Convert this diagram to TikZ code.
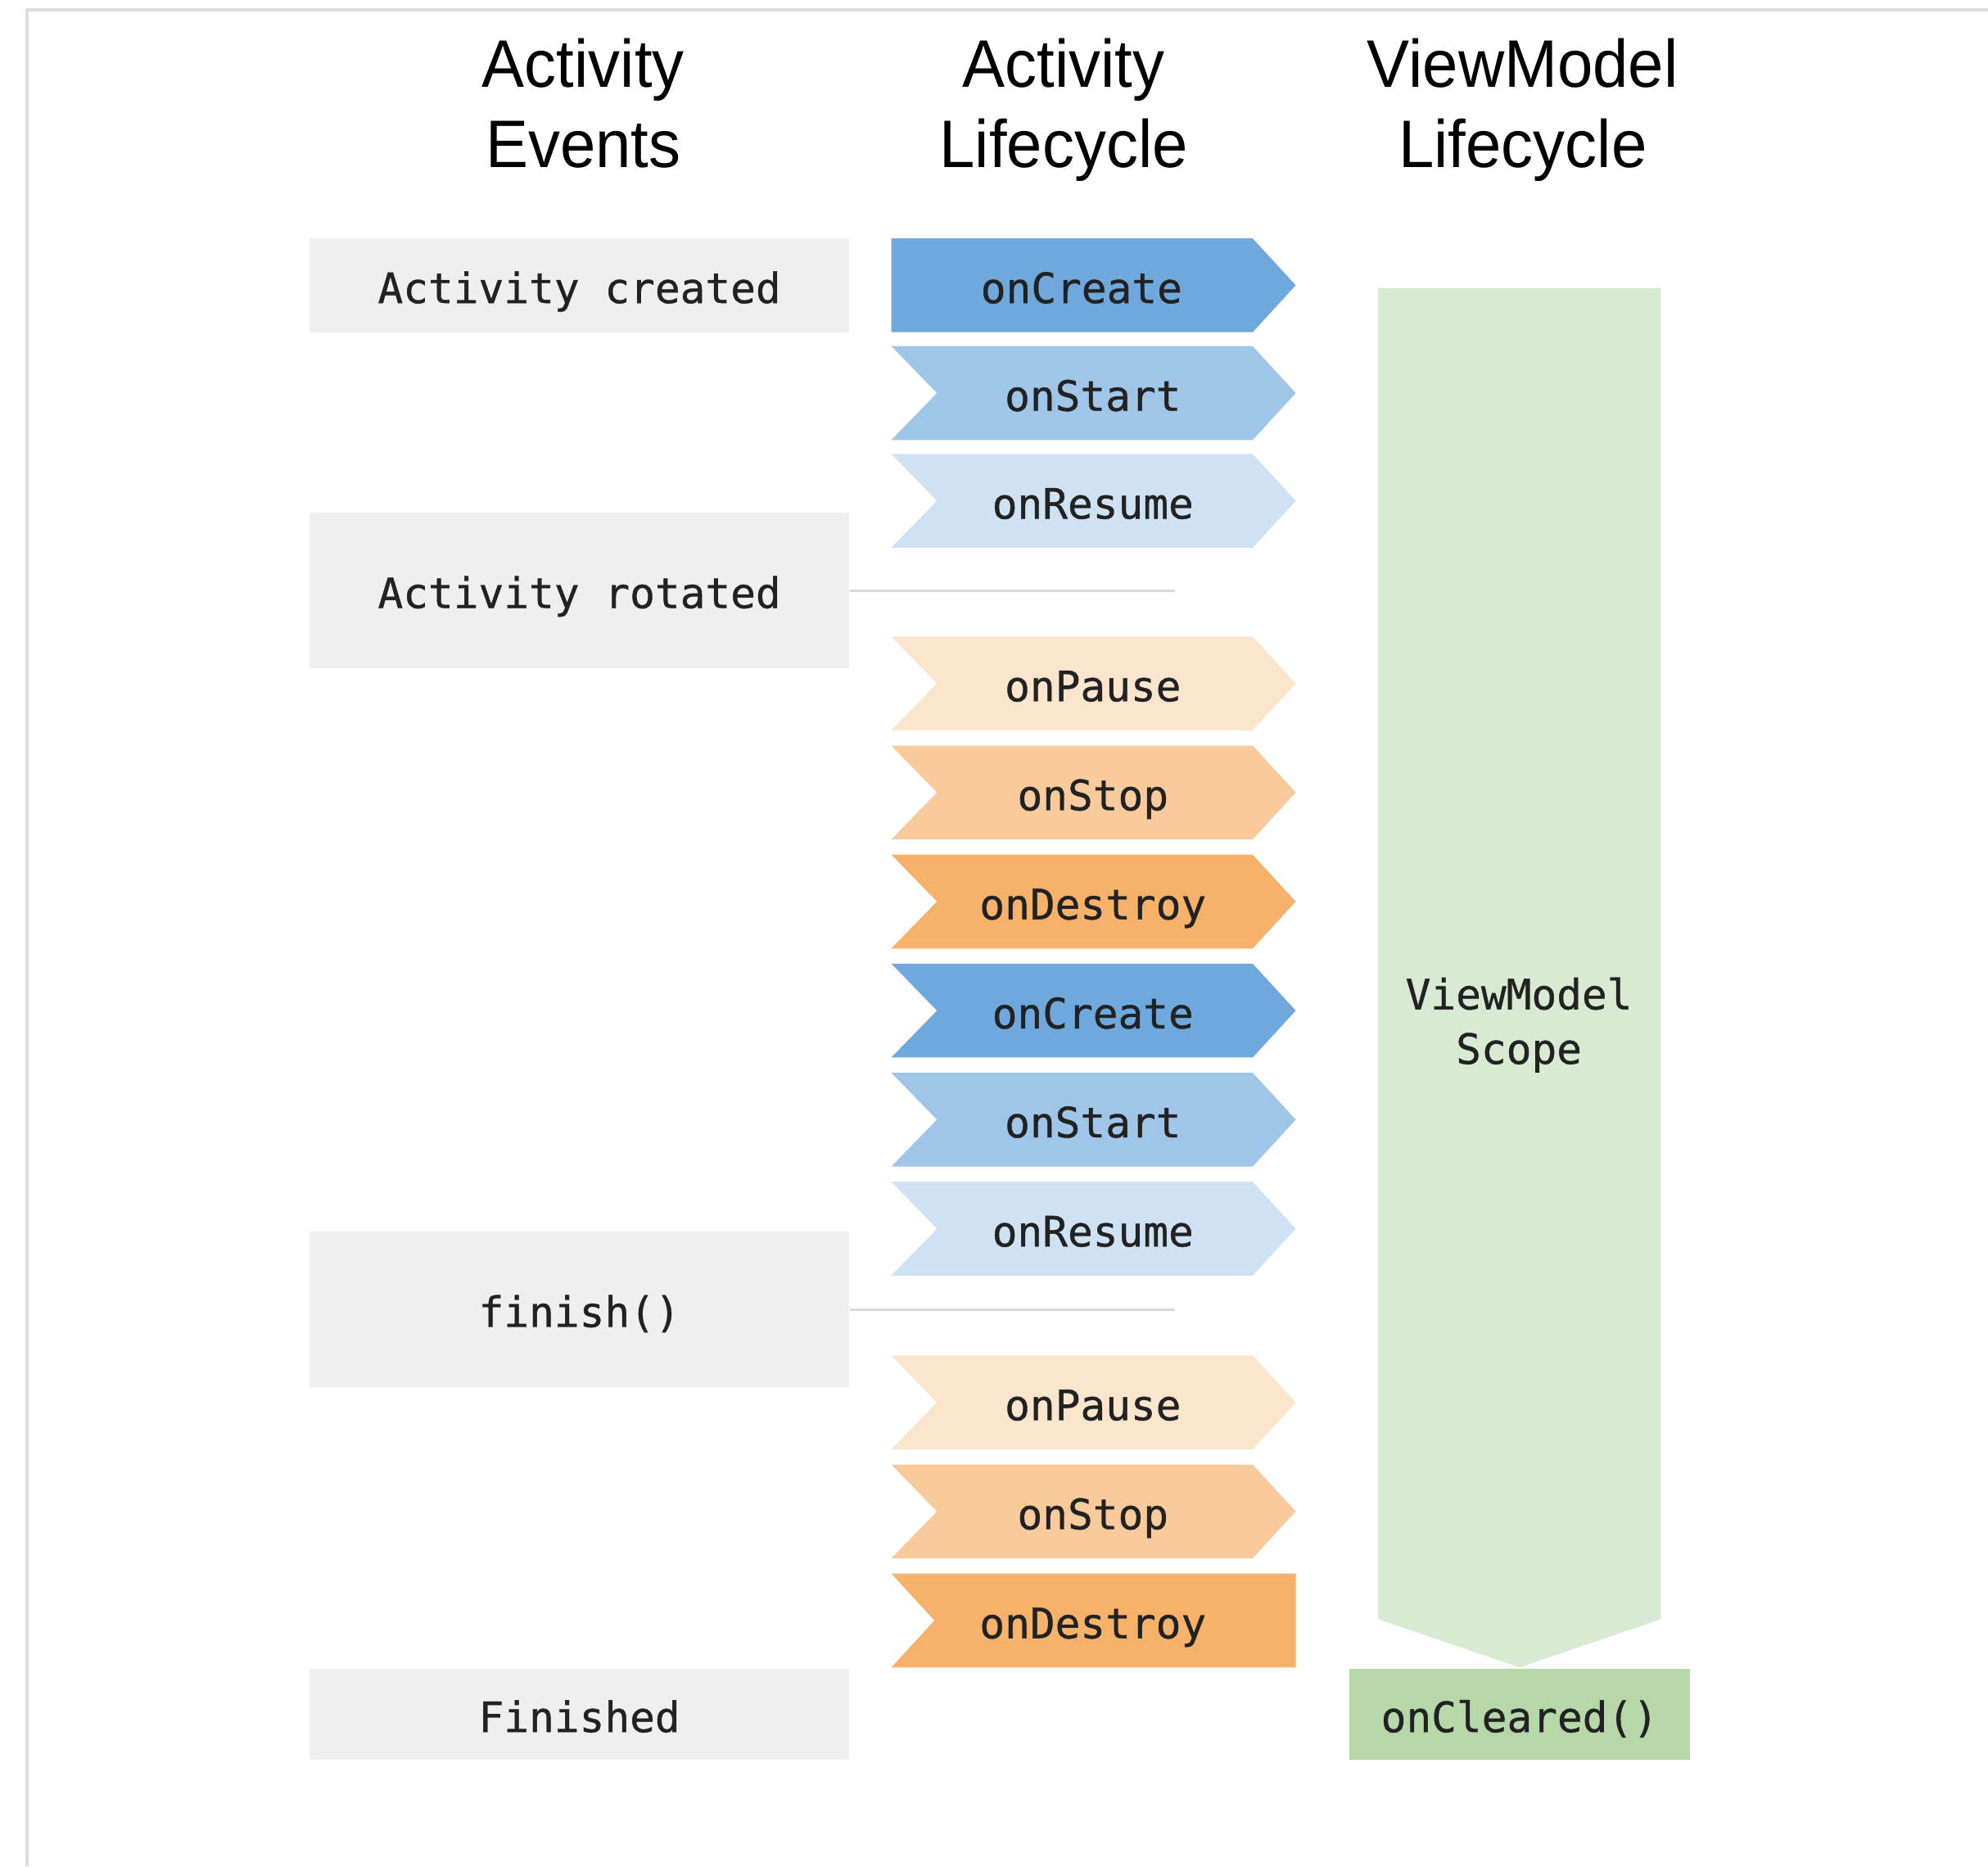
\documentclass[tikz,border=0pt]{standalone}
\usepackage{fontspec}
\setmainfont{Liberation Sans}
\newfontfamily\hdrfont[FakeStretch=0.95]{Liberation Sans}
\newfontfamily\codefont[FakeBold=0.7]{DejaVu Sans Mono}

\definecolor{framegray}{HTML}{DDDDDD}
\definecolor{evgray}{HTML}{EFEFEF}
\definecolor{tickgray}{HTML}{D9D9D9}
\definecolor{lcCreate}{HTML}{6FA8DC}
\definecolor{lcStart}{HTML}{9FC5E8}
\definecolor{lcResume}{HTML}{CFE2F3}
\definecolor{lcPause}{HTML}{FCE5CD}
\definecolor{lcStop}{HTML}{F9CB9C}
\definecolor{lcDestroy}{HTML}{F6B26B}
\definecolor{vmScope}{HTML}{D9EAD3}
\definecolor{vmCleared}{HTML}{B6D7A8}
\definecolor{codeink}{HTML}{222222}

% one lifecycle step: notched on the left, pointed on the right
% #1 node name, #2 vertical centre, #3 colour, #4 label
\newcommand\lcstep[4]{%
  \fill[#3] (703,#2-37) -- (988,#2-37) -- (1022,#2) -- (988,#2+37)
            -- (703,#2+37) -- (739,#2) -- cycle;
  \node[codetext] (#1) at (862,#2) {#4};}

\begin{document}
\begin{tikzpicture}[x=1pt,y=-1pt,
  codetext/.style={font=\codefont\fontsize{33}{40}\selectfont, text=codeink,
    inner sep=0pt, text height=28pt, text depth=0pt},
  hdr/.style={font=\hdrfont\fontsize{53}{63.5}\selectfont, anchor=base, inner sep=0pt},
  evbox/.style={codetext, fill=evgray, minimum width=426pt},
  tick/.style={draw=tickgray, line width=2pt}]

\useasboundingbox (0,0) rectangle (1568,1472);
\fill[white] (0,0) rectangle (1568,1472);

% page frame
\draw[framegray, line width=2.5pt] (21.5,1472) -- (21.5,7.5) -- (1568,7.5);

% column headings
\node[hdr] (hdrEvA) at (460,69)  {Activity};
\node[hdr] (hdrEvB) at (460,132) {Events};
\node[hdr] (hdrLcA) at (839,69)  {Activity};
\node[hdr] (hdrLcB) at (839,132) {Lifecycle};
\node[hdr] (hdrVmA) at (1201,69)  {ViewModel};
\node[hdr] (hdrVmB) at (1201,132) {Lifecycle};

% activity events
\node[evbox, minimum height=74pt]  (evCreated)  at (457,225)    {Activity created};
\node[evbox, minimum height=123pt] (evRotated)  at (457,465.5)  {Activity rotated};
\node[evbox, minimum height=123pt] (evFinish)   at (457,1032.5) {finish()};
\node[evbox, minimum height=72pt]  (evFinished) at (457,1352)   {Finished};

\coordinate (rotEnd) at (927,466);
\coordinate (finEnd) at (927,1033);
\draw[tick] (evRotated.east |- rotEnd) -- (rotEnd);
\draw[tick] (evFinish.east |- finEnd) -- (finEnd);

% activity lifecycle: first onCreate has a flat left side
\fill[lcCreate] (703,188) -- (988,188) -- (1022,225) -- (988,262) -- (703,262) -- cycle;
\node[codetext] (create1) at (853,225) {onCreate};
\lcstep{start1}{310}{lcStart}{onStart}
\lcstep{resume1}{395}{lcResume}{onResume}
\lcstep{pause1}{539}{lcPause}{onPause}
\lcstep{stop1}{625}{lcStop}{onStop}
\lcstep{destroy1}{711}{lcDestroy}{onDestroy}
\lcstep{create2}{797}{lcCreate}{onCreate}
\lcstep{start2}{883}{lcStart}{onStart}
\lcstep{resume2}{969}{lcResume}{onResume}
\lcstep{pause2}{1106}{lcPause}{onPause}
\lcstep{stop2}{1192}{lcStop}{onStop}
% last onDestroy ends square on the right
\fill[lcDestroy] (703,1241) -- (1022,1241) -- (1022,1315) -- (703,1315) -- (737,1278) -- cycle;
\node[codetext] (destroy2) at (862,1278) {onDestroy};

% viewmodel lifecycle
\fill[vmScope] (1087,227) -- (1310,227) -- (1310,1277) -- (1198.5,1315) -- (1087,1277) -- cycle;
\node[codetext] (scopeA) at (1198,782) {ViewModel};
\node[codetext] (scopeB) at (1198,825) {Scope};
\node[codetext, fill=vmCleared, minimum width=269pt, minimum height=72pt]
  (cleared) at (1198.5,1352) {onCleared()};

\end{tikzpicture}
\end{document}
